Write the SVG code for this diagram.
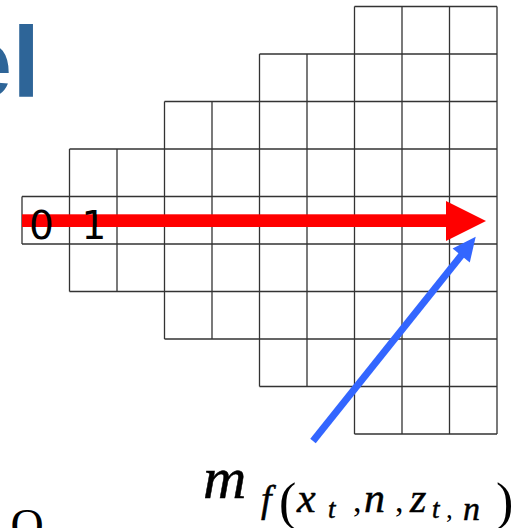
<svg xmlns="http://www.w3.org/2000/svg" width="514" height="528" viewBox="0 0 514 528">
<style>
.grid{fill:none;stroke:#333;stroke-width:1.3}
.num{font-family:"DejaVu Sans",sans-serif;font-size:39px;fill:#000;text-anchor:middle}
.mi{font-family:"Liberation Serif",serif;font-style:italic;fill:#000;stroke:#000;stroke-width:0.5}
.mr{font-family:"Liberation Serif",serif;fill:#000}
</style>
<rect width="514" height="528" fill="#fff"/>
<g id="title">
<text x="40" y="96.7" font-family="Liberation Sans,Arial,sans-serif" font-weight="bold" font-size="100" fill="#2e6598" text-anchor="end">el</text>
</g>
<g id="grid">
<path class="grid" d="M354.5 6.5H497M259.5 54H497M164.5 101.5H497M69.5 149H497M22 196.5H497M22 244H497M69.5 291.5H497M164.5 339H497M259.5 386.5H497M354.5 434H497
M22 196.5V244M69.5 149V291.5M117 149V291.5M164.5 101.5V339M212 101.5V339M259.5 54V386.5M307 54V386.5M354.5 6.5V434M402 6.5V434M449.5 6.5V434M497 6.5V434"/>
</g>
<g id="connectors">
<g id="red-arrow">
<rect x="22" y="214.3" width="426" height="12.7" fill="#ff0000"/>
<polygon points="446,201 486,221 446,241" fill="#ff0000"/>
</g>
<g id="blue-arrow">
<line x1="313" y1="441" x2="462" y2="254.5" stroke="#3366ff" stroke-width="7"/>
<polygon points="475.7,236.7 469.8,262.4 452.6,248.6" fill="#3366ff"/>
</g>
</g>
<g id="labels">
<text class="num" x="41.3" y="239">0</text>
<text class="num" x="94" y="239">1</text>
</g>
<g id="math">
<text class="mi" x="203" y="498" font-size="60">m</text>
<text class="mi" x="261" y="512" font-size="38">f</text>
<text class="mr" x="279" y="519" font-size="52">(</text>
<text class="mi" x="297" y="512" font-size="42">x</text>
<text class="mi" x="328" y="518" font-size="27">t</text>
<text class="mr" x="353" y="512" font-size="34">,</text>
<text class="mi" x="364" y="512" font-size="42">n</text>
<text class="mr" x="395" y="512" font-size="34">,</text>
<text class="mi" x="410" y="512" font-size="42">z</text>
<text class="mi" x="432" y="518" font-size="27">t</text>
<text class="mr" x="446" y="518" font-size="27">,</text>
<text class="mi" x="463" y="520" font-size="34">n</text>
<text class="mr" x="496" y="519" font-size="52">)</text>
</g>
<g id="bottom-text">
<text class="mr" x="10.4" y="541" font-size="46">O</text>
</g>
</svg>
